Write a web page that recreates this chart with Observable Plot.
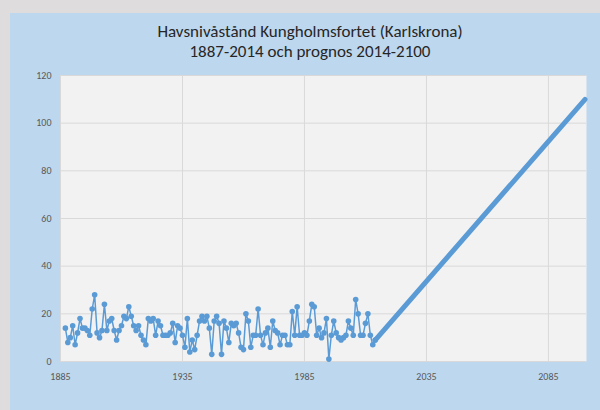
<!DOCTYPE html>
<html>
<head>
<meta charset="utf-8">
<script src="https://cdn.jsdelivr.net/npm/d3@7"></script>
<script src="https://cdn.jsdelivr.net/npm/@observablehq/plot@0.6"></script>
<style>
  html, body { margin: 0; padding: 0; width: 600px; height: 410px; overflow: hidden; background: #dedcdc; }
  #panel { position: absolute; left: 10px; top: 13px; width: 590px; height: 397px; background: #bdd7ee; }
  #title { position: absolute; left: 0; top: 9px; width: 600px; text-align: center; font-family: Carlito, Calibri, "Liberation Sans Narrow", "Open Sans", sans-serif; font-size: 17px; line-height: 20px; color: #262626; }
  #chart { position: absolute; left: 0; top: 39px; }
</style>
</head>
<body>
<div id="panel">
  <div id="title">Havsnivåstånd Kungholmsfortet (Karlskrona)<br>1887-2014 och prognos 2014-2100</div>
  <div id="chart"></div>
</div>
<script>
const startYear = 1887;
const observed = [
  14, 8, 10, 15, 7, 12, 18, 14, 14, 13, 11, 22, 28, 12, 10, 13, 24, 13, 17, 18,
  13, 9, 13, 15, 19, 18, 23, 19, 15, 13, 15, 11, 9, 7, 18, 17, 18, 11, 17, 15,
  11, 11, 11, 12, 16, 8, 15, 14, 11, 6, 18, 4, 9, 5, 11, 17, 19, 17, 19,
  14, 3, 17, 19, 16, 3, 17, 14, 8, 16, 15, 16, 12, 6, 5, 20, 17, 6, 11, 11,
  22, 11, 7, 12, 14, 6, 17, 13, 12, 7, 11, 11, 7, 7, 21, 11, 23, 11, 11,
  12, 11, 17, 24, 23, 11, 14, 10, 12, 18, 1, 11, 17, 12, 10, 9, 10, 11, 17,
  14, 11, 26, 20, 11, 11, 16, 20, 11, 7, 9
];
const forecastYears = [2014, 2100];
const forecastValues = [9, 110];
const xTicks = [1885, 1935, 1985, 2035, 2085];
const yTicks = [0, 20, 40, 60, 80, 100, 120];

const obsData = observed.map((v, i) => ({year: startYear + i, value: v}));
const fcData = forecastYears.map((y, i) => ({year: y, value: forecastValues[i]}));

const color = "#5b9bd5";
const chart = Plot.plot({
  width: 590,
  height: 358,
  marginLeft: 50,
  marginRight: 14,
  marginTop: 23,
  marginBottom: 49,
  style: { background: "transparent", fontFamily: 'Carlito, Calibri, "Liberation Sans Narrow", "Open Sans", sans-serif', fontSize: "10px", color: "#595959" },
  x: { domain: [1885, 2100.6], ticks: xTicks, tickFormat: d => String(d), tickSize: 0, tickPadding: 11, label: null },
  y: { domain: [0, 120], ticks: yTicks, tickSize: 0, tickPadding: 9, label: null },
  marks: [
    Plot.frame({ fill: "#f2f2f2", stroke: null }),
    Plot.ruleY(yTicks, { stroke: "#d9d9d9", strokeWidth: 1 }),
    Plot.ruleX(xTicks, { stroke: "#d9d9d9", strokeWidth: 1 }),
    Plot.line(fcData, { x: "year", y: "value", stroke: color, strokeWidth: 5 }),
    Plot.line(obsData, { x: "year", y: "value", stroke: color, strokeWidth: 1.5 }),
    Plot.dot(obsData, { x: "year", y: "value", r: 2.8, fill: color, stroke: null })
  ]
});
document.getElementById("chart").appendChild(chart);
</script>
</body>
</html>
